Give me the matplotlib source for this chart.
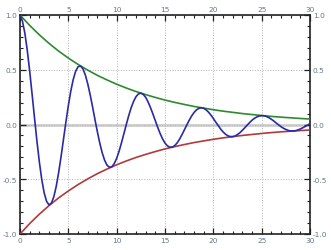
import matplotlib
matplotlib.use("Agg")
from matplotlib import pyplot as plt
from matplotlib.ticker import MultipleLocator, FormatStrFormatter

# damped oscillation, step 0.25
t_wave = [i * 0.25 for i in range(121)]
wave = [1.000, 0.945, 0.835, 0.679, 0.489, 0.278, 0.061, -0.150, -0.341, -0.502,
        -0.624, -0.702, -0.734, -0.718, -0.660, -0.564, -0.438, -0.292, -0.134, 0.023,
        0.172, 0.303, 0.409, 0.485, 0.527, 0.535, 0.510, 0.455, 0.374, 0.275,
        0.164, 0.048, -0.065, -0.169, -0.257, -0.326, -0.371, -0.391, -0.386, -0.357,
        -0.309, -0.244, -0.166, -0.083, 0.001, 0.082, 0.153, 0.211, 0.254, 0.279,
        0.286, 0.275, 0.248, 0.206, 0.154, 0.096, 0.034, -0.027, -0.083, -0.132,
        -0.170, -0.195, -0.207, -0.207, -0.193, -0.169, -0.135, -0.094, -0.050, -0.005,
        0.038, 0.077, 0.109, 0.133, 0.147, 0.153, 0.148, 0.134, 0.113, 0.086,
        0.055, 0.022, -0.009, -0.041, -0.067, -0.088, -0.103, -0.110, -0.111, -0.105,
        -0.092, -0.075, -0.053, -0.030, -0.006, 0.017, 0.039, 0.056, 0.069, 0.078,
        0.081, 0.080, 0.073, 0.062, 0.048, 0.032, 0.014, -0.003, -0.020, -0.034,
        -0.045, -0.054, -0.059, -0.059, -0.057, -0.050, -0.041, -0.030, -0.018, -0.005,
        0.008]

# envelopes, step 1
t_env = list(range(31))
upper = [1.00, 0.905, 0.819, 0.741, 0.670, 0.607, 0.549, 0.497, 0.449, 0.407,
         0.368, 0.333, 0.301, 0.273, 0.247, 0.223, 0.202, 0.183, 0.165, 0.150,
         0.135, 0.122, 0.111, 0.100, 0.091, 0.082, 0.074, 0.067, 0.061, 0.055,
         0.050]
lower = [-1.00, -0.905, -0.819, -0.741, -0.670, -0.607, -0.549, -0.497, -0.449, -0.407,
         -0.368, -0.333, -0.301, -0.273, -0.247, -0.223, -0.202, -0.183, -0.165, -0.150,
         -0.135, -0.122, -0.111, -0.100, -0.091, -0.082, -0.074, -0.067, -0.061, -0.055,
         -0.050]

plt.rcParams['axes.unicode_minus'] = False
fig = plt.figure(figsize=(3.31, 2.51), dpi=100)
ax = fig.add_axes([20 / 331, 16 / 251, 290 / 331, 219 / 251])

ax.axhline(0, color='#d2d2d2', lw=2.2, zorder=1)
ax.plot(t_env, upper, color='#2e8a2e', lw=1.2, zorder=3)
ax.plot(t_env, lower, color='#b03a3a', lw=1.2, zorder=3)
ax.plot(t_wave, wave, color='#2a2aa5', lw=1.2, zorder=4)

ax.set_xlim(0, 30)
ax.set_ylim(-1, 1)
ax.xaxis.set_major_locator(MultipleLocator(5))
ax.xaxis.set_minor_locator(MultipleLocator(1))
ax.yaxis.set_major_locator(MultipleLocator(0.5))
ax.yaxis.set_minor_locator(MultipleLocator(0.1))
ax.yaxis.set_major_formatter(FormatStrFormatter('%.1f'))
ax.grid(True, which='major', linestyle=':', color='#b4b4b4', lw=0.7, zorder=0)

lab = '#66788a'
ax.tick_params(which='both', direction='in', top=True, right=True,
               labeltop=True, labelright=True, colors='#222222',
               labelcolor=lab, labelsize=5.3, pad=2)
ax.tick_params(which='major', length=4, width=0.9)
ax.tick_params(which='minor', length=2.5, width=0.8)
for s in ax.spines.values():
    s.set_linewidth(1.2)
    s.set_color('#222222')

plt.savefig('out.png', dpi=100)
